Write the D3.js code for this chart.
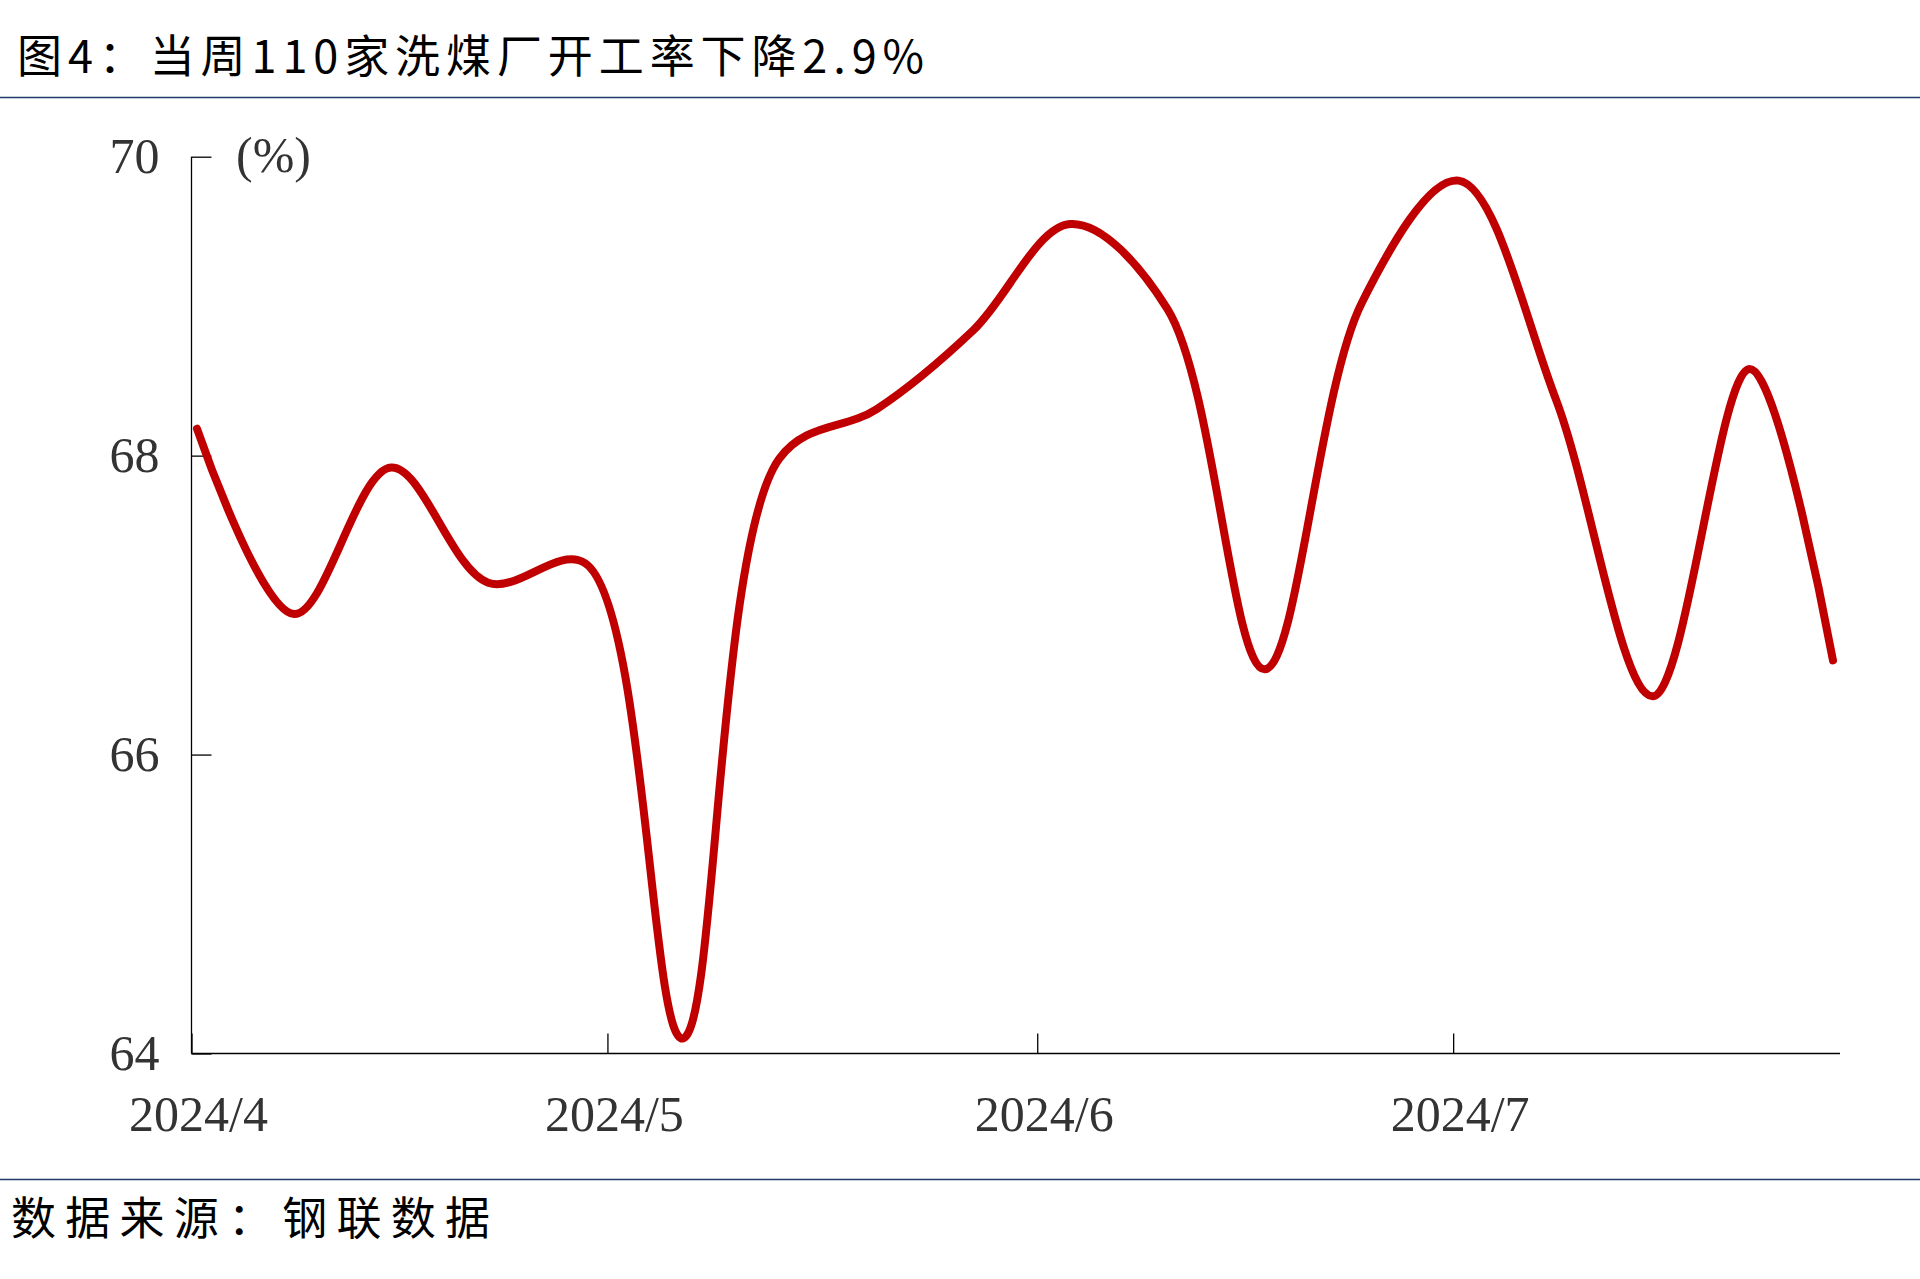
<!DOCTYPE html>
<html>
<head>
<meta charset="utf-8">
<script src="https://cdn.jsdelivr.net/npm/d3@7/dist/d3.min.js"></script>
<style>
  html, body { margin: 0; padding: 0; background: #fff; }
  svg { display: block; }
</style>
</head>
<body>
<svg id="chart" width="1920" height="1279"></svg>
<script>
// ---------- data ----------
const dates = [
  "2024-04-05","2024-04-12","2024-04-19","2024-04-26","2024-05-03","2024-05-10",
  "2024-05-17","2024-05-24","2024-05-31","2024-06-07","2024-06-14","2024-06-21",
  "2024-06-28","2024-07-05","2024-07-12","2024-07-19","2024-07-26","2024-08-01"
];
const rates = [
  68.18, 66.94, 67.92, 67.15, 67.28, 64.10,
  67.98, 68.31, 68.84, 69.55, 68.98, 66.57,
  69.02, 69.84, 68.38, 66.39, 68.58, 66.63
];
const yTicks = [64, 66, 68, 70];
const xTickDates = ["2024-04-05", "2024-05-05", "2024-06-05", "2024-07-05"];
const xTickLabels = ["2024/4", "2024/5", "2024/6", "2024/7"];
const titleText = "图4：当周110家洗煤厂开工率下降2.9%";
const sourceText = "数据来源：钢联数据";
const unitText = "(%)";

// ---------- layout ----------
const parse = d3.timeParse("%Y-%m-%d");
const svg = d3.select("#chart");
const axisLeftX = 191.5, axisRightX = 1840;
const yTop = 156.7, yBottom = 1053.5;
const tickShift = -5.5;

const x = d3.scaleTime()
  .domain([parse(dates[0]), parse(dates[dates.length - 1])])
  .range([197, 1833]);
const y = d3.scaleLinear().domain([64, 70]).range([yBottom, yTop]);

// title & rules
svg.append("text")
  .attr("x", 17).attr("y", 73)
  .attr("font-family", "'Noto Sans CJK SC', sans-serif")
  .attr("font-size", 45)
  .attr("fill", "#000")
  .attr("textLength", 907)
  .attr("lengthAdjust", "spacing")
  .text(titleText);

svg.append("line")
  .attr("x1", 0).attr("x2", 1920).attr("y1", 97.5).attr("y2", 97.5)
  .attr("stroke", "#1f3b6b").attr("stroke-width", 1.6);

svg.append("line")
  .attr("x1", 0).attr("x2", 1920).attr("y1", 1179.5).attr("y2", 1179.5)
  .attr("stroke", "#1f3b6b").attr("stroke-width", 1.6);

svg.append("text")
  .attr("x", 11).attr("y", 1235)
  .attr("font-family", "'Noto Sans CJK SC', sans-serif")
  .attr("font-size", 45)
  .attr("fill", "#000")
  .attr("textLength", 479)
  .attr("lengthAdjust", "spacing")
  .text(sourceText);

// y axis
const yAxis = svg.append("g")
  .attr("transform", `translate(${axisLeftX},0)`)
  .call(d3.axisLeft(y).tickValues(yTicks).tickSize(-20).tickPadding(32).tickFormat(d3.format("d")));
yAxis.select(".domain").remove();
yAxis.selectAll(".tick line").attr("stroke", "#000").attr("stroke-width", 1.3);
yAxis.selectAll(".tick text")
  .attr("font-family", "'Liberation Serif', 'Times New Roman', serif")
  .attr("font-size", 50)
  .attr("fill", "#333");

svg.append("line")
  .attr("x1", axisLeftX).attr("x2", axisLeftX)
  .attr("y1", yTop).attr("y2", yBottom)
  .attr("stroke", "#000").attr("stroke-width", 1.3);

// x axis
const xAxis = svg.append("g")
  .attr("transform", `translate(0,${yBottom})`)
  .call(d3.axisBottom(x)
    .tickValues(xTickDates.map(parse))
    .tickSize(-20)
    .tickPadding(0)
    .tickFormat((d, i) => xTickLabels[i]));
xAxis.select(".domain").remove();
xAxis.selectAll(".tick line")
  .attr("stroke", "#000").attr("stroke-width", 1.3)
  .attr("transform", `translate(${tickShift},0)`);
xAxis.selectAll(".tick text")
  .attr("font-family", "'Liberation Serif', 'Times New Roman', serif")
  .attr("font-size", 50)
  .attr("fill", "#333")
  .attr("dy", null)
  .attr("y", 77)
  .attr("dx", 1);

svg.append("line")
  .attr("x1", axisLeftX).attr("x2", axisRightX)
  .attr("y1", yBottom).attr("y2", yBottom)
  .attr("stroke", "#000").attr("stroke-width", 1.3);

// unit label
svg.append("text")
  .attr("x", 236).attr("y", 172)
  .attr("font-family", "'Liberation Serif', 'Times New Roman', serif")
  .attr("font-size", 50)
  .attr("fill", "#333")
  .text(unitText);

// line
const data = dates.map((d, i) => ({ date: parse(d), value: rates[i] }));
const line = d3.line()
  .x(d => x(d.date))
  .y(d => y(d.value))
  .curve(d3.curveCatmullRom.alpha(0.5));

svg.append("path")
  .datum(data)
  .attr("d", line)
  .attr("fill", "none")
  .attr("stroke", "#c00000")
  .attr("stroke-width", 8)
  .attr("stroke-linecap", "round")
  .attr("stroke-linejoin", "round");
</script>
</body>
</html>
